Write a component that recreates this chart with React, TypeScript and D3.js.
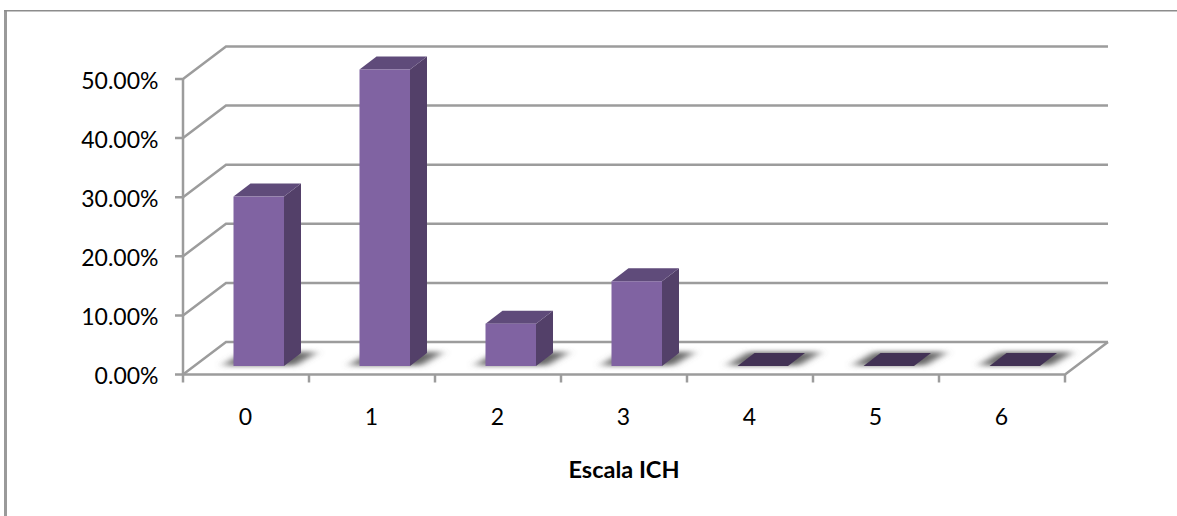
import React from "react";
import * as d3 from "d3";

const categories = ["0", "1", "2", "3", "4", "5", "6"];
const shares = [28.57, 50, 7.14, 14.29, 0, 0, 0];
const axisTicks = [0, 10, 20, 30, 40, 50];
const axisTitle = "Escala ICH";

const W = 1177;
const H = 516;
const FONT = "Lato, 'Open Sans', sans-serif";

// Oblique offset of the back wall and of a bar's depth.
const WALL_DX = 43;
const WALL_DY = -32.5;
const BAR_DX = 17;
const BAR_DY = -13;
const BAR_W = 50.5;

const GRID = "#9c9c9c";
const FRONT = "#8064a2";
const TOP = "#5f4b7a";
const SIDE = "#523f69";
const EMPTY = "#433355";

const pts = (p: [number, number][]) => p.map((d) => d.join(",")).join(" ");

export default function App() {
  const x = d3.scaleBand<string>().domain(categories).range([183, 1065]);
  const y = d3.scaleLinear().domain([0, 50]).range([374.5, 79]);
  const barY = d3.scaleLinear().domain([0, 50]).range([366, 69.5]);
  const left = x.range()[0];
  const right = x.range()[1];

  return (
    <svg
      width={W}
      height={H}
      viewBox={`0 0 ${W} ${H}`}
      style={{ position: "fixed", left: 0, top: 0, background: "#fff" }}
      fontFamily={FONT}
    >
      <defs>
        <filter
          id="floor-shadow"
          filterUnits="userSpaceOnUse"
          x={150}
          y={320}
          width={1000}
          height={70}
        >
          <feGaussianBlur stdDeviation="5 2.8" />
        </filter>
        <filter id="soft" x="-5%" y="-5%" width="110%" height="110%">
          <feGaussianBlur stdDeviation="0.45" />
        </filter>
      </defs>

      {/* chart frame */}
      <line x1={5.5} x2={5.5} y1={10} y2={H} stroke="#9a9a9a" strokeWidth={3} />
      <line x1={4} x2={W} y1={10.7} y2={10.7} stroke="#8c8c8c" strokeWidth={1.6} />

      {/* wall gridlines with their floor-side returns */}
      <g stroke={GRID} strokeWidth={2.5} fill="none" filter="url(#soft)">
        {axisTicks.map((t) => (
          <polyline
            key={t}
            points={pts([
              [left - 8, y(t)],
              [left, y(t)],
              [left + WALL_DX, y(t) + WALL_DY],
              [right + WALL_DX, y(t) + WALL_DY],
            ])}
          />
        ))}
        <line x1={left} x2={left} y1={y(50)} y2={y(0)} />
        <polyline
          points={pts([
            [left, y(0)],
            [right, y(0)],
            [right + WALL_DX, y(0) + WALL_DY],
          ])}
        />
        {d3.range(categories.length + 1).map((i) => {
          const px = left + i * x.bandwidth();
          return <line key={i} x1={px} x2={px} y1={y(0)} y2={y(0) + 8} />;
        })}
      </g>

      {/* floor shadows */}
      <g filter="url(#floor-shadow)">
        {categories.map((c) => {
          const x0 = x(c)! + 50.5;
          return (
            <polygon
              key={c}
              fill="#666666"
              points={pts([
                [x0 - 11, 365.5],
                [x0 + BAR_W + 11, 365.5],
                [x0 + BAR_W + BAR_DX + 16, 352],
                [x0 + BAR_DX - 6, 352],
              ])}
            />
          );
        })}
      </g>

      {/* bars */}
      <g filter="url(#soft)">
        {categories.map((c, i) => {
          const x0 = x(c)! + 50.5;
          const x1 = x0 + BAR_W;
          const base = barY(0);
          const top = barY(shares[i]);
          if (shares[i] === 0) {
            return (
              <polygon
                key={c}
                fill={EMPTY}
                points={pts([
                  [x0, base],
                  [x1, base],
                  [x1 + BAR_DX, base + BAR_DY],
                  [x0 + BAR_DX, base + BAR_DY],
                ])}
              />
            );
          }
          return (
            <g key={c}>
              <polygon
                fill={SIDE}
                points={pts([
                  [x1, top],
                  [x1 + BAR_DX, top + BAR_DY],
                  [x1 + BAR_DX, base + BAR_DY],
                  [x1, base],
                ])}
              />
              <polygon
                fill={TOP}
                points={pts([
                  [x0, top],
                  [x0 + BAR_DX, top + BAR_DY],
                  [x1 + BAR_DX, top + BAR_DY],
                  [x1, top],
                ])}
              />
              <rect x={x0} y={top} width={BAR_W} height={base - top} fill={FRONT} />
            </g>
          );
        })}
      </g>

      {/* value axis labels */}
      <g fontSize={23} fill="#000" textAnchor="end">
        {axisTicks.map((t) => (
          <text key={t} x={158.5} y={y(t) + 9.5}>
            {t.toFixed(2)}%
          </text>
        ))}
      </g>

      {/* category labels */}
      <g fontSize={23} fill="#000" textAnchor="middle">
        {categories.map((c) => (
          <text key={c} x={x(c)! + x.bandwidth() / 2 - 0.5} y={425}>
            {c}
          </text>
        ))}
      </g>

      <text x={624} y={478} fontSize={23.5} fontWeight={700} textAnchor="middle" fill="#000">
        {axisTitle}
      </text>
    </svg>
  );
}
